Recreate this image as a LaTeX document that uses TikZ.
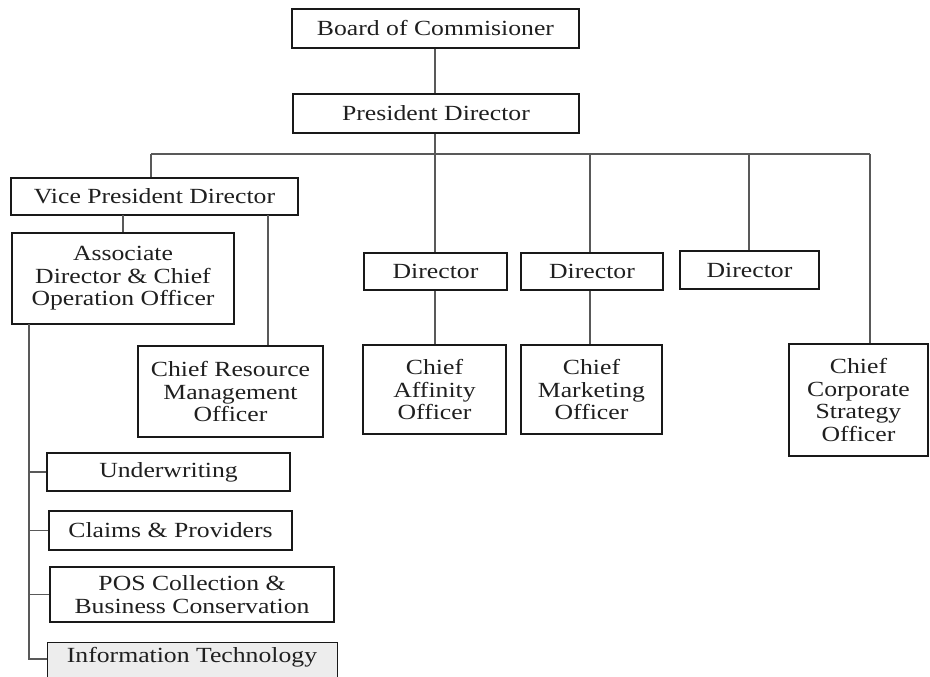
\documentclass[tikz,border=0pt]{standalone}
\usepackage{fontspec}
\setmainfont{Liberation Serif}[FakeStretch=1.19]
\begin{document}
\begin{tikzpicture}[x=1pt,y=-1pt,
  box/.style={draw=black!90, line width=1.3pt, inner sep=0pt, align=center,
    text=black!88, font=\fontsize{21.6}{22.6}\selectfont},
  link/.style={draw=black!65, line width=1.1pt}]
\useasboundingbox (0,0) rectangle (930,677);
\clip (0,0) rectangle (930,677);

% top of the chart
\node[box, minimum width=287, minimum height=39] (board) at (435.5,28.5) {Board of Commisioner};
\node[box, minimum width=286, minimum height=39] (pres) at (436,113.5) {President Director};

% second level
\node[box, minimum width=287, minimum height=37] (vp) at (154.5,196.5) {Vice President Director};
\node[box, minimum width=143, minimum height=37] (dir1) at (435.5,271.5) {Director};
\node[box, minimum width=142, minimum height=37] (dir2) at (592,271.5) {Director};
\node[box, minimum width=139, minimum height=38] (dir3) at (749.5,270) {Director};

% officers
\node[box, minimum width=222, minimum height=91] (assoc) at (123,278.5) {Associate\\Director \& Chief\\Operation Officer};
\node[box, minimum width=185, minimum height=91] (crmo) at (230.5,391.5) {Chief Resource\\Management\\Officer};
\node[box, minimum width=143, minimum height=89] (cao) at (434.5,389.5) {Chief\\Affinity\\Officer};
\node[box, minimum width=141, minimum height=89] (cmo) at (591.5,389.5) {Chief\\Marketing\\Officer};
\node[box, minimum width=139, minimum height=112] (ccso) at (858.5,400) {Chief\\Corporate\\Strategy\\Officer};

% units under the associate director
\node[box, minimum width=243, minimum height=38] (uw) at (168.5,472) {Underwriting};
\node[box, minimum width=243, minimum height=39] (claims) at (170.5,530.5) {Claims \& Providers};
\node[box, minimum width=284, minimum height=55] (pos) at (192,594.5) {POS Collection \&\\Business Conservation};
\node[box, fill=black!7, minimum width=290, minimum height=58, anchor=north west] (it) at (47,642) {};
\node[box, draw=none, anchor=base] (itlabel) at (192,662) {Information Technology};

% bus under the president
\coordinate (busL) at (151,154);
\coordinate (busR) at (870,154);
\coordinate (bus1) at (435,154);
\coordinate (bus2) at (590,154);
\coordinate (bus3) at (749,154);

\draw[link] (board.south -| bus1) -- (pres.north -| bus1);
\draw[link] (pres.south -| bus1) -- (bus1);
\draw[link] (busL) -- (busR);
\draw[link] (busL) -- (vp.north -| busL);
\draw[link] (bus1) -- (dir1.north -| bus1);
\draw[link] (bus2) -- (dir2.north -| bus2);
\draw[link] (bus3) -- (dir3.north -| bus3);
\draw[link] (busR) -- (ccso.north -| busR);

\draw[link] (dir1.south -| bus1) -- (cao.north -| bus1);
\draw[link] (dir2.south -| bus2) -- (cmo.north -| bus2);

% vice president branches
\coordinate (vpA) at (123,215);
\coordinate (vpC) at (268,215);
\draw[link] (vpA) -- (assoc.north -| vpA);
\draw[link] (vpC) -- (crmo.north -| vpC);

% spine of the associate director's units
\coordinate (spineTop) at (29,324);
\coordinate (spineEnd) at (29,659);
\draw[link] (spineTop) -- (spineEnd) -- (it.west |- spineEnd);
\draw[link] (uw.west -| spineTop) -- (uw.west);
\draw[link] (claims.west -| spineTop) -- (claims.west);
\draw[link] (pos.west -| spineTop) -- (pos.west);
\end{tikzpicture}
\end{document}
